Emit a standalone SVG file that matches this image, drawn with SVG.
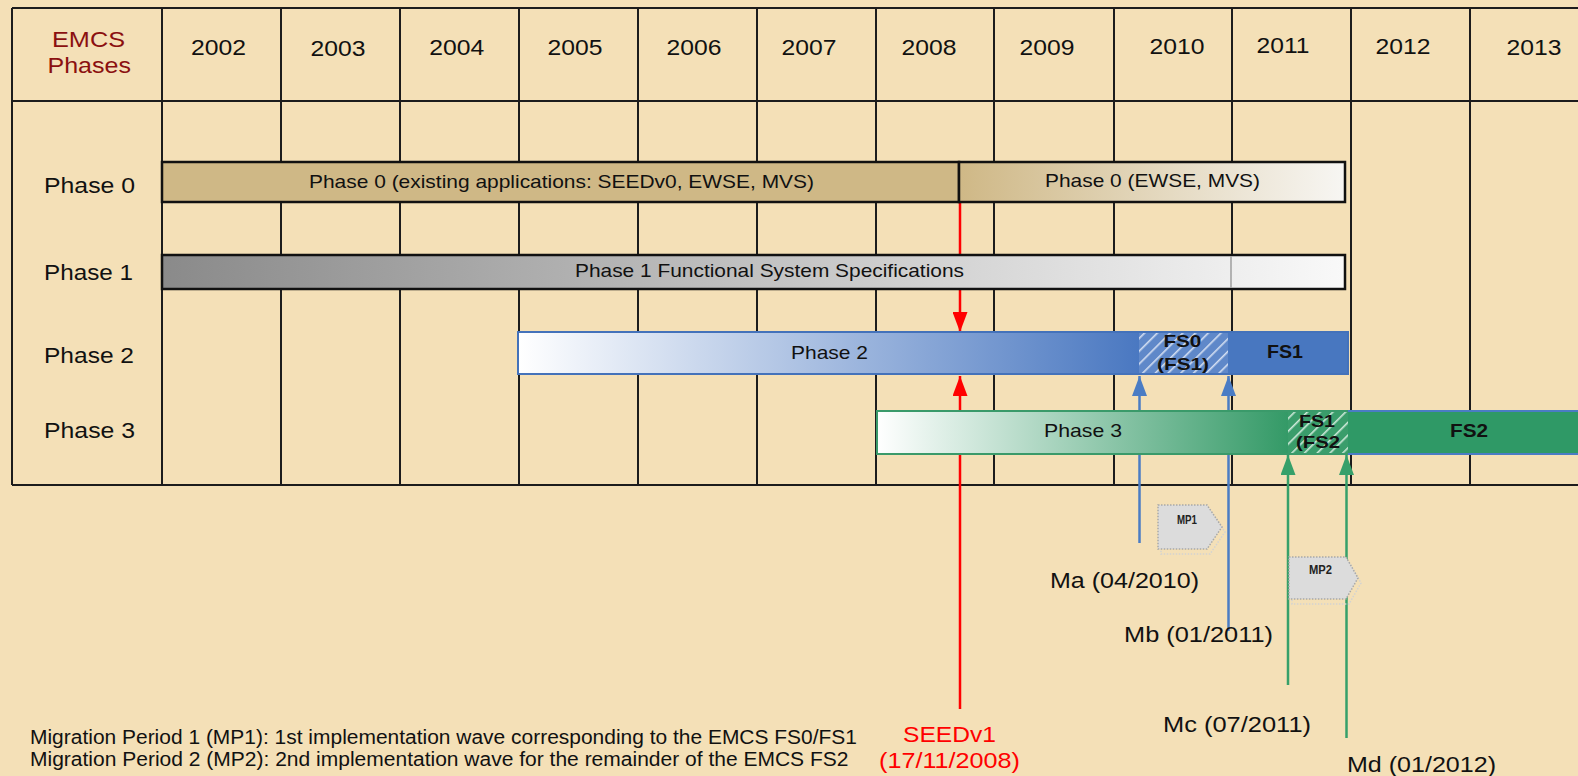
<svg xmlns="http://www.w3.org/2000/svg" width="1578" height="776" viewBox="0 0 1578 776">
<defs>
<style>
text { font-family: "Liberation Sans", Arial, sans-serif; fill:#111; }
.grid { stroke:#1c1c1c; stroke-width:2; fill:none; }
.yr { font-size:22px; }
.hdr { font-size:21.5px; fill:#8B1010; }
.ph { font-size:22.5px; }
.bt { font-size:18.5px; }
.fs { font-weight:bold; }
.ms { font-size:22px; }
.red { fill:#FF0000; font-size:22px; }
.foot { font-size:19.5px; }
.mp { font-size:12px; font-weight:bold; fill:#222; }
.barK { stroke:#111; stroke-width:2.5; }
.lnR { stroke:#FF0000; stroke-width:2.5; fill:none; }
.lnB { stroke:#4A7CC4; stroke-width:2.5; fill:none; }
.lnG { stroke:#36A06A; stroke-width:2.5; fill:none; }
.mpShape { fill:#DCDCDC; stroke:#A8A8A8; stroke-width:1.5; stroke-dasharray:1.5 1.5; }
.mpShadow { fill:none; stroke:#D2D2D2; stroke-width:1.5; stroke-dasharray:1.5 1.5; }
</style>
<linearGradient id="gP0" gradientUnits="userSpaceOnUse" x1="959" y1="0" x2="1345" y2="0">
<stop offset="0" stop-color="#CFB886"/><stop offset="1" stop-color="#F7F6F3"/>
</linearGradient>
<linearGradient id="gP1" gradientUnits="userSpaceOnUse" x1="162" y1="0" x2="1345" y2="0">
<stop offset="0" stop-color="#8A8A8A"/><stop offset="1" stop-color="#F9F9F9"/>
</linearGradient>
<linearGradient id="gP2" gradientUnits="userSpaceOnUse" x1="518" y1="0" x2="1139" y2="0">
<stop offset="0" stop-color="#FFFFFF"/><stop offset="1" stop-color="#4A78C1"/>
</linearGradient>
<linearGradient id="gP3" gradientUnits="userSpaceOnUse" x1="877" y1="0" x2="1288" y2="0">
<stop offset="0" stop-color="#FFFFFF"/><stop offset="1" stop-color="#349A67"/>
</linearGradient>
<pattern id="hB" patternUnits="userSpaceOnUse" width="9" height="9" patternTransform="rotate(45)">
<rect width="9" height="9" fill="#5F88C9"/><rect width="1.6" height="9" fill="#D3DEF1"/>
</pattern>
<pattern id="hG" patternUnits="userSpaceOnUse" width="9" height="9" patternTransform="rotate(45)">
<rect width="9" height="9" fill="#3A9D6B"/><rect width="1.6" height="9" fill="#CDE8D8"/>
</pattern>
<marker id="aR" markerUnits="userSpaceOnUse" markerWidth="20" markerHeight="15" refX="20" refY="7.5" orient="auto">
<path d="M0,0 L20,7.5 L0,15 Z" fill="#FF0000"/>
</marker>
<marker id="aB" markerUnits="userSpaceOnUse" markerWidth="20" markerHeight="15" refX="20" refY="7.5" orient="auto">
<path d="M0,0 L20,7.5 L0,15 Z" fill="#4A7CC4"/>
</marker>
<marker id="aG" markerUnits="userSpaceOnUse" markerWidth="20" markerHeight="15" refX="20" refY="7.5" orient="auto">
<path d="M0,0 L20,7.5 L0,15 Z" fill="#36A06A"/>
</marker>
</defs>

<rect x="0" y="0" width="1578" height="776" fill="#F4E0B7"/>

<g id="grid" class="grid">
<line x1="12" y1="8" x2="1578" y2="8"/>
<line x1="12" y1="101" x2="1578" y2="101"/>
<line x1="12" y1="485" x2="1578" y2="485"/>
<line x1="12" y1="8" x2="12" y2="485"/>
<line x1="162" y1="8" x2="162" y2="485"/>
<line x1="281" y1="8" x2="281" y2="485"/>
<line x1="400" y1="8" x2="400" y2="485"/>
<line x1="519" y1="8" x2="519" y2="485"/>
<line x1="638" y1="8" x2="638" y2="485"/>
<line x1="757" y1="8" x2="757" y2="485"/>
<line x1="876" y1="8" x2="876" y2="485"/>
<line x1="994" y1="8" x2="994" y2="485"/>
<line x1="1114" y1="8" x2="1114" y2="485"/>
<line x1="1232" y1="8" x2="1232" y2="485"/>
<line x1="1351" y1="8" x2="1351" y2="485"/>
<line x1="1470" y1="8" x2="1470" y2="485"/>
</g>

<g id="header">
<text class="hdr" x="52" y="47" textLength="73" lengthAdjust="spacingAndGlyphs">EMCS</text>
<text class="hdr" x="47.5" y="73" textLength="83.5" lengthAdjust="spacingAndGlyphs">Phases</text>
<text class="yr" x="191" y="55" textLength="55" lengthAdjust="spacingAndGlyphs">2002</text>
<text class="yr" x="310.5" y="56" textLength="55" lengthAdjust="spacingAndGlyphs">2003</text>
<text class="yr" x="429.3" y="54.5" textLength="55" lengthAdjust="spacingAndGlyphs">2004</text>
<text class="yr" x="547.5" y="55" textLength="55" lengthAdjust="spacingAndGlyphs">2005</text>
<text class="yr" x="666.5" y="54.5" textLength="55" lengthAdjust="spacingAndGlyphs">2006</text>
<text class="yr" x="781.5" y="54.5" textLength="55" lengthAdjust="spacingAndGlyphs">2007</text>
<text class="yr" x="901.5" y="54.5" textLength="55" lengthAdjust="spacingAndGlyphs">2008</text>
<text class="yr" x="1019.5" y="54.5" textLength="55" lengthAdjust="spacingAndGlyphs">2009</text>
<text class="yr" x="1149.5" y="54" textLength="55" lengthAdjust="spacingAndGlyphs">2010</text>
<text class="yr" x="1256.5" y="52.7" textLength="53" lengthAdjust="spacingAndGlyphs">2011</text>
<text class="yr" x="1375.5" y="54" textLength="55" lengthAdjust="spacingAndGlyphs">2012</text>
<text class="yr" x="1506.5" y="55" textLength="55" lengthAdjust="spacingAndGlyphs">2013</text>
</g>

<g id="phase-labels">
<text class="ph" x="44" y="193" textLength="91" lengthAdjust="spacingAndGlyphs">Phase 0</text>
<text class="ph" x="44" y="280" textLength="89" lengthAdjust="spacingAndGlyphs">Phase 1</text>
<text class="ph" x="44" y="363" textLength="90" lengthAdjust="spacingAndGlyphs">Phase 2</text>
<text class="ph" x="44" y="438" textLength="91" lengthAdjust="spacingAndGlyphs">Phase 3</text>
</g>

<g id="connectors">
<line class="lnR" x1="960" y1="202" x2="960" y2="332" marker-end="url(#aR)"/>
<line class="lnR" x1="960" y1="709" x2="960" y2="376" marker-end="url(#aR)"/>
<line class="lnB" x1="1139.5" y1="543" x2="1139.5" y2="376" marker-end="url(#aB)"/>
<line class="lnB" x1="1228.5" y1="631" x2="1228.5" y2="376" marker-end="url(#aB)"/>
<line class="lnG" x1="1288" y1="685" x2="1288" y2="455" marker-end="url(#aG)"/>
<line class="lnG" x1="1346.5" y1="738" x2="1346.5" y2="455" marker-end="url(#aG)"/>
</g>

<g id="phase0-existing">
<rect class="barK" x="162" y="162" width="797" height="40" fill="#CFB886"/>
<text class="bt" x="309" y="188" textLength="505" lengthAdjust="spacingAndGlyphs">Phase 0 (existing applications: SEEDv0, EWSE, MVS)</text>
</g>
<g id="phase0-ewse">
<rect class="barK" x="959" y="162" width="386" height="40" fill="url(#gP0)"/>
<text class="bt" x="1045" y="187" textLength="215" lengthAdjust="spacingAndGlyphs">Phase 0 (EWSE, MVS)</text>
</g>

<g id="phase1">
<rect class="barK" x="162" y="255" width="1183" height="34" fill="url(#gP1)"/>
<line x1="1231" y1="256.5" x2="1231" y2="287.5" stroke="#8A8A8A" stroke-width="1.2"/>
<text class="bt" x="575" y="277" textLength="389" lengthAdjust="spacingAndGlyphs">Phase 1 Functional System Specifications</text>
</g>

<g id="phase2">
<rect x="518" y="332" width="830" height="42" fill="url(#gP2)" stroke="#4472BA" stroke-width="2"/>
<text class="bt" x="791" y="358.5" textLength="77" lengthAdjust="spacingAndGlyphs">Phase 2</text>
</g>
<g id="phase2-fs0">
<rect x="1139" y="333" width="89" height="40" fill="url(#hB)"/>
<text class="fs" font-size="16.5" x="1163.4" y="346.7" textLength="38" lengthAdjust="spacingAndGlyphs">FS0</text>
<text class="fs" font-size="16.5" x="1157" y="370" textLength="52" lengthAdjust="spacingAndGlyphs">(FS1)</text>
</g>
<g id="phase2-fs1">
<rect x="1228" y="333" width="119" height="40" fill="#4877C0"/>
<text class="fs" font-size="19" x="1267" y="358" textLength="36" lengthAdjust="spacingAndGlyphs">FS1</text>
</g>

<g id="phase3">
<rect x="877" y="411" width="711" height="43" fill="url(#gP3)" stroke="#3A9A6A" stroke-width="2"/>
<text class="bt" x="1044" y="437" textLength="78" lengthAdjust="spacingAndGlyphs">Phase 3</text>
</g>
<g id="phase3-fs1">
<rect x="1288" y="412" width="60" height="41" fill="url(#hG)"/>
<text class="fs" font-size="17" x="1299" y="427" textLength="36" lengthAdjust="spacingAndGlyphs">FS1</text>
<text class="fs" font-size="17" x="1296" y="447.5" textLength="44" lengthAdjust="spacingAndGlyphs">(FS2</text>
</g>
<g id="phase3-fs2">
<rect x="1348" y="412" width="232" height="41" fill="#2F9966"/>
<line x1="1348" y1="411" x2="1578" y2="411" stroke="#4A7CC4" stroke-width="2"/>
<line x1="1348" y1="454" x2="1578" y2="454" stroke="#4A7CC4" stroke-width="2"/>
<text class="fs" font-size="18" x="1450" y="437" textLength="38" lengthAdjust="spacingAndGlyphs">FS2</text>
</g>

<g id="mp1">
<polygon class="mpShadow" points="1161,510 1210,510 1225,532 1210,554 1161,554"/>
<polygon class="mpShape" points="1158,505 1207,505 1222,527 1207,549 1158,549"/>
<text class="mp" x="1177" y="524" textLength="20" lengthAdjust="spacingAndGlyphs">MP1</text>
</g>
<g id="mp2">
<polygon class="mpShadow" points="1292,562 1349,562 1361,583 1349,604 1292,604"/>
<polygon class="mpShape" points="1289,557 1346,557 1358,578 1346,599 1289,599"/>
<text class="mp" x="1309" y="574" textLength="23" lengthAdjust="spacingAndGlyphs">MP2</text>
</g>

<g id="milestones">
<text class="ms" x="1050" y="588" textLength="149" lengthAdjust="spacingAndGlyphs">Ma (04/2010)</text>
<text class="ms" x="1124" y="641.5" textLength="149" lengthAdjust="spacingAndGlyphs">Mb (01/2011)</text>
<text class="ms" x="1163" y="731.5" textLength="148" lengthAdjust="spacingAndGlyphs">Mc (07/2011)</text>
<text class="ms" x="1347" y="771.5" textLength="149" lengthAdjust="spacingAndGlyphs">Md (01/2012)</text>
</g>

<g id="seedv1">
<text class="red" x="903" y="742" textLength="93" lengthAdjust="spacingAndGlyphs">SEEDv1</text>
<text class="red" x="879" y="768" textLength="141" lengthAdjust="spacingAndGlyphs">(17/11/2008)</text>
</g>

<g id="footer">
<text class="foot" x="30" y="744" textLength="827" lengthAdjust="spacingAndGlyphs">Migration Period 1 (MP1): 1st implementation wave corresponding to the EMCS FS0/FS1</text>
<text class="foot" x="30" y="766" textLength="818.5" lengthAdjust="spacingAndGlyphs">Migration Period 2 (MP2): 2nd implementation wave for the remainder of the EMCS FS2</text>
</g>
</svg>
